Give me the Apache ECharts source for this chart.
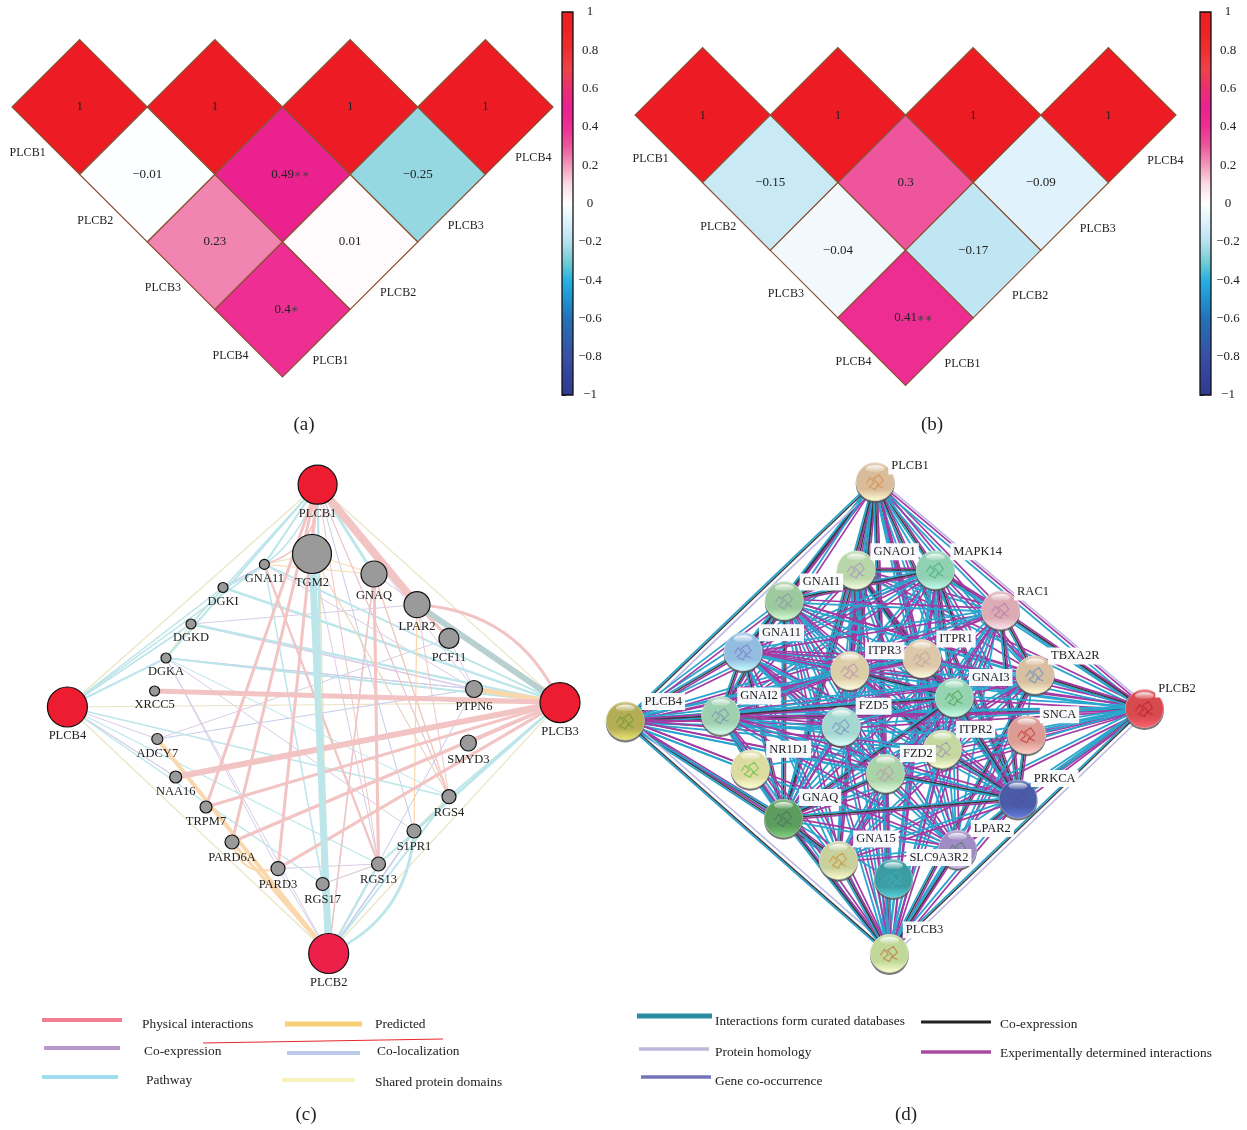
<!DOCTYPE html>
<html>
<head>
<meta charset="utf-8">
<title>PLCB correlation and networks</title>
<script src="https://cdn.jsdelivr.net/npm/echarts@6/dist/echarts.min.js"></script>
<style>
  html, body { margin: 0; background: #fff; }
  #main { width: 1247px; height: 1130px; }
</style>
</head>
<body>
<div id="main"></div>
<script>
const SERIF = '"Liberation Serif", serif'

// (a) and (b): rows run from the top row of the triangle downwards
const genes = ['PLCB1', 'PLCB2', 'PLCB3', 'PLCB4']
const corrA = [[1, 1, 1, 1], [-0.01, 0.49, -0.25], [0.23, 0.01], [0.4]]
const starsA = [['', '', '', ''], ['', '**', ''], ['', ''], ['*']]
const corrB = [[1, 1, 1, 1], [-0.15, 0.3, -0.09], [-0.04, -0.17], [0.41]]
const starsB = [['', '', '', ''], ['', '', ''], ['', ''], ['**']]
const barColors = ['#2e3a8f', '#33439a', '#3a4ea3', '#2f60ae', '#2272b8', '#2091cd', '#27b1e3',
  '#75cdd4', '#b5e2f0', '#dcf1fa', '#ffffff', '#fbdbe6', '#f398ba', '#ee559d', '#ee2e92',
  '#ec2090', '#ea3070', '#ee4248', '#ee2e30', '#ee2226', '#ed1c24']

// (c): GeneMANIA nodes
const cNames = ['PLCB1', 'TGM2', 'GNA11', 'DGKI', 'DGKD', 'DGKA', 'XRCC5', 'PLCB4', 'ADCY7', 'NAA16', 'TRPM7', 'PARD6A',
  'PARD3', 'RGS17', 'RGS13', 'S1PR1', 'RGS4', 'SMYD3', 'PTPN6', 'PLCB3', 'PCF11', 'LPAR2', 'GNAQ', 'PLCB2']
const cX = [317.6, 312, 264.4, 223, 191, 166, 154.6, 67.4, 157.3, 175.7, 206, 232, 278, 322.6, 378.5, 414, 449, 468.4, 474, 560, 449, 417, 374, 328.7]
const cY = [484.7, 554, 564.4, 587.5, 624, 658, 691, 707, 739, 777, 807, 842, 868.6, 884, 864, 831, 796.7, 743, 689, 702.6, 638.4, 604.7, 574, 953.5]
const cSizes = [39, 39, 10, 10, 10, 10, 10, 40, 11, 12, 12, 14, 14, 13, 14, 14, 14, 16, 17, 40, 20, 26, 26, 40]

// (c) links: [source, target, width, curveness]
const linksShared = [['PLCB1', 'PLCB4', 1.2], ['PLCB1', 'PLCB3', 1.2], ['PLCB4', 'PLCB2', 1.2], ['PLCB3', 'PLCB2', 1.2],
  ['PLCB4', 'PLCB3', 1.2], ['PLCB1', 'PLCB2', 1.5], ['DGKA', 'DGKD', 1.5], ['DGKD', 'DGKI', 1.5], ['RGS17', 'RGS13', 1.2],
  ['RGS4', 'S1PR1', 1.5], ['GNA11', 'TGM2', 1.2]]
const linksCoexp = [['PLCB4', 'DGKI', 1], ['PLCB4', 'GNA11', 1], ['PLCB4', 'NAA16', 1.2], ['PLCB4', 'ADCY7', 1], ['DGKD', 'PTPN6', 1.5],
  ['DGKD', 'LPAR2', 1], ['DGKD', 'PLCB3', 1], ['DGKA', 'PTPN6', 1], ['DGKA', 'PLCB3', 1], ['ADCY7', 'PCF11', 1], ['PLCB1', 'RGS4', 1],
  ['PLCB1', 'RGS17', 1], ['PLCB1', 'PTPN6', 1], ['TGM2', 'RGS13', 1], ['DGKA', 'PARD3', 1], ['PLCB2', 'DGKA', 1], ['PARD3', 'RGS13', 1],
  ['RGS17', 'RGS13', 1], ['GNA11', 'PTPN6', 1], ['DGKA', 'S1PR1', 1], ['DGKI', 'GNA11', 1.2], ['PLCB2', 'PARD3', 1], ['PLCB3', 'GNAQ', 1],
  ['PCF11', 'PTPN6', 1]]
const linksColoc = [['ADCY7', 'PTPN6', 1], ['DGKA', 'PTPN6', 1], ['PLCB2', 'PTPN6', 1], ['PLCB2', 'RGS13', 2], ['GNA11', 'DGKI', 1],
  ['TGM2', 'RGS4', 1], ['DGKA', 'PLCB3', 1], ['PLCB1', 'S1PR1', 1], ['PLCB2', 'S1PR1', 1.5]]
const linksPathway = [['PLCB1', 'RGS17', 2], ['PLCB1', 'GNAQ', 3], ['PLCB1', 'LPAR2', 2], ['PLCB1', 'DGKI', 1.5, 0.25], ['PLCB1', 'DGKD', 1.5],
  ['PLCB1', 'DGKA', 2], ['PLCB1', 'GNA11', 2], ['PLCB4', 'DGKI', 1.5], ['PLCB4', 'DGKD', 2], ['PLCB4', 'DGKA', 2], ['PLCB4', 'GNA11', 1.5],
  ['PLCB4', 'RGS4', 1.5], ['PLCB4', 'RGS17', 1.5], ['PLCB4', 'RGS13', 1.2], ['PLCB3', 'DGKD', 2.5], ['PLCB3', 'DGKA', 2], ['PLCB3', 'GNA11', 2],
  ['PLCB3', 'DGKI', 2.5], ['PLCB3', 'RGS4', 2], ['PLCB3', 'S1PR1', 2], ['PLCB3', 'RGS13', 2], ['PLCB3', 'XRCC5', 1.5], ['PLCB2', 'RGS4', 2],
  ['PLCB2', 'S1PR1', 3, -0.3], ['PLCB2', 'RGS13', 2], ['PLCB2', 'RGS17', 2], ['GNA11', 'RGS17', 1.5], ['GNA11', 'RGS13', 1.2], ['GNAQ', 'PLCB2', 1.2],
  ['DGKA', 'RGS4', 1], ['PLCB1', 'TGM2', 2], ['PLCB3', 'PTPN6', 2]]
const linksPredicted = [['PLCB3', 'PTPN6', 5], ['ADCY7', 'PLCB2', 4], ['PARD6A', 'PLCB2', 3], ['GNAQ', 'RGS13', 2.5], ['TGM2', 'GNAQ', 1],
  ['TGM2', 'RGS4', 1], ['PARD6A', 'PARD3', 2, -0.5], ['LPAR2', 'S1PR1', 1.2], ['GNAQ', 'RGS4', 1.2], ['GNA11', 'GNAQ', 1]]
const linksPhysical = [['PLCB1', 'LPAR2', 8], ['LPAR2', 'PCF11', 3], ['PLCB3', 'LPAR2', 3, -0.3], ['XRCC5', 'PLCB3', 5], ['NAA16', 'PLCB3', 6],
  ['TRPM7', 'PLCB3', 3], ['PARD6A', 'PLCB3', 3.5], ['PARD3', 'PLCB3', 3], ['SMYD3', 'PLCB3', 3], ['PLCB1', 'TRPM7', 3], ['PLCB1', 'PARD6A', 3],
  ['PLCB1', 'PARD3', 3], ['PLCB1', 'GNA11', 1.5, 0.4], ['GNA11', 'RGS13', 2.2], ['GNAQ', 'RGS13', 3], ['TGM2', 'PLCB1', 2], ['GNAQ', 'RGS4', 1],
  ['LPAR2', 'RGS4', 1], ['PLCB2', 'TGM2', 1], ['PLCB2', 'GNAQ', 1.5], ['PLCB1', 'RGS4', 1], ['PLCB1', 'RGS13', 1]]
// drawn last: the thick pathway trunk, and the trunk where pathway and physical overlap
const linksTrunkPathway = [['TGM2', 'PLCB2', 7]]
const linksTrunkMixed = [['PLCB3', 'LPAR2', 6]]

// (d): STRING nodes. Link lists use one letter per node, in node order:
// the first letter of a string is linked to each letter after it
const dNames = ['PLCB1', 'GNAO1', 'MAPK14', 'GNAI1', 'RAC1', 'GNA11', 'ITPR1', 'ITPR3', 'TBXA2R', 'PLCB2', 'GNAI3', 'PLCB4',
  'GNAI2', 'FZD5', 'SNCA', 'ITPR2', 'NR1D1', 'FZD2', 'PRKCA', 'GNAQ', 'LPAR2', 'GNA15', 'SLC9A3R2', 'PLCB3']
const dX = [875.2, 856.2, 935.3, 784.3, 1000.6, 743.1, 921.9, 849.9, 1035, 1144.5, 954.3, 625.3,
  720.6, 841.2, 1026.7, 942.4, 750.3, 885.5, 1018, 783.5, 957.5, 838.4, 893.4, 889.4]
const dY = [481.7, 570, 570, 600.7, 610.3, 651.7, 658.6, 670.7, 674.8, 708.6, 697.6, 721,
  715.5, 726.6, 734.8, 749.3, 769.3, 773.4, 799, 818.3, 849.3, 860.3, 878.6, 953.4]
const dLabelX = [910, 894.6, 977.6, 821.4, 1033, 781.5, 956, 884.7, 1075.3, 1177, 990.7, 663.3,
  759, 873.6, 1059.5, 975.6, 788.6, 917.9, 1054.7, 820.2, 992.3, 876, 938.9, 924.6]
const dLabelY = [466, 551.7, 551.7, 582, 592, 632.8, 639, 650.7, 655.9, 689, 677.6, 701.4,
  695.9, 706.2, 714.8, 729.3, 749.3, 753.4, 778.6, 797.6, 828.6, 839, 857.6, 930]
const dColors = ['#d9bd9b', '#b8d6a8', '#8fd1b2', '#9dca9d', '#dcabb3', '#93bde0', '#dcc8a8', '#dccfa8', '#d8bf9f', '#d64a50', '#94d4b0', '#b3ad55',
  '#9fd0b0', '#a5d8d0', '#dc9c94', '#c5d8a0', '#dcdca0', '#aad4a8', '#4a5ca8', '#5c9c5c', '#a08cc4', '#c8d09c', '#3c9ca4', '#c0d898']
const dGlyphs = ['#d88a3c', '#a98fc0', '#3fb07f', '#8a93b0', '#b678a8', '#7a7cc0', '#c0a0a0', '#b88ab0', '#5a8fd0', '#c02028', '#4aa050', '#6a9a30',
  '#7a90b0', '#7a8cc0', '#c83030', '#a090b0', '#60c040', '#c090a8', '#5050a0', '#507060', '#508060', '#d09030', '#40b0b8', '#c07040']
const curatedLinks = ['ABCDEFGHIJKLMNOPRSTUVWX', 'BCDEFGHJKLMNPRSTUVX', 'CDEFGHIJKLMNOPRSTUX', 'DEFGHIJKLMNPRSTUVX', 'EFIJKLMOPRSTUVX',
  'FGHJKLMNPRSTUVX', 'GHIJKLPSTX', 'HIJKLMPSTX', 'IJKLMRSTUVX', 'JKLMNOPQRSTUVWX', 'KLMNPRSTUVX', 'LMNOPQRSTUVWX', 'MNPRSTUVX', 'NRTUX',
  'OSX', 'PSTX', 'QTX', 'RSTUVX', 'STUVX', 'TUVX', 'UVX', 'VX', 'WX']
const experimentLinks = ['ABCDEFGHIJKMNPRSTUVX', 'BCDEGHIJKMNRSTUVX', 'CDEFGHIJKLMOPSTX', 'DEFHIJKLMNPRSTUVX', 'EFHIJKLMPRSTVX',
  'FGHIJKLMNRSTUX', 'GHJKLPSX', 'HJKLMPSTX', 'IJKLMRTUVX', 'JKLMNOPRSTUV', 'KLMNPRSTUVX', 'LMNPQRSTUV', 'MNRSTUVX', 'NRTX',
  'OSX', 'PSX', 'QT', 'RTUVX', 'STUVX', 'TUVX', 'UVX', 'VX']
const coexpLinks = ['ABCDFGHLSTVX', 'BCDHKST', 'CDESK', 'DFMT', 'ESIJ', 'FMTL', 'GHPKS', 'HPK', 'IJX', 'JLSX', 'KMST', 'LMTVX', 'MTQ', 'RT', 'OS', 'PS', 'QT', 'RS', 'STU', 'TVX', 'UX', 'VX']
const homologyLinks = ['ALJ', 'JX', 'LX', 'QT', 'GHP']

// legends and captions
const legendCNames = ['Physical interactions', 'Predicted', 'Co-expression', 'Co-localization', 'Pathway', 'Shared protein domains']
const legendCColors = ['#f07f92', '#f8cf73', '#b899cb', '#bccbea', '#9fdcf0', '#faf2bd']
const legendDNames = ['Interactions form curated databases', 'Co-expression', 'Protein homology', 'Experimentally determined interactions', 'Gene co-occurrence']
const legendDColors = ['#2a8ba3', '#222222', '#bdb8dc', '#a94a9f', '#7472b8']
const captions = ['(a)', '(b)', '(c)', '(d)']

// layout only
const legendCLayout = [[42, 122, 1020, 142, 1024, 4], [285, 362, 1024, 375, 1024, 5], [44, 120, 1048, 144, 1051, 4],
  [287, 360, 1053, 377, 1051, 4], [42, 118, 1077, 146, 1080, 4], [282, 355, 1080, 375, 1082, 4]]
const legendDLayout = [[637, 712, 1016, 715, 1021, 5], [921, 991, 1022, 1000, 1024, 3], [639, 709, 1049, 715, 1052, 3.5],
  [921, 991, 1052, 1000, 1053, 3.5], [641, 711, 1077, 715, 1081, 3.5]]
const captionLayout = [[304, 425], [932, 425], [306, 1115], [906, 1115]]

const measureCtx = document.createElement('canvas').getContext('2d')

function matrixData(corr, stars) {
  const out = []
  corr.forEach((row, k) => row.forEach((v, c) => {
    out.push({
      value: [c + k / 2, k, v],
      star: stars[k][c],
      left: c === 0 ? genes[k] : '',
      right: c === row.length - 1 ? genes[3 - k] : ''
    })
  }))
  return out
}

function formatCell(v) {
  return String(v).replace('-', '−')
}

function matrixSeries(idx, corr, stars, offL, offR) {
  const data = matrixData(corr, stars)
  return {
    type: 'custom',
    xAxisIndex: idx,
    yAxisIndex: idx,
    clip: false,
    encode: { x: 0, y: 1 },
    dimensions: ['u', 'v', 'r'],
    data: data,
    renderItem: function (params, api) {
      const u = api.value(0), v = api.value(1)
      const d = data[params.dataIndex]
      const c = api.coord([u, v])
      const pts = [[u - 0.5, v], [u, v - 1], [u + 0.5, v], [u, v + 1]].map(p => api.coord(p))
      const font = '12px ' + SERIF
      const valueFont = '13px ' + SERIF
      const txt = formatCell(api.value(2))
      measureCtx.font = valueFont
      const halfW = measureCtx.measureText(txt).width / 2
      const kids = [{
        type: 'polygon',
        shape: { points: pts },
        style: { fill: api.visual('color'), stroke: '#8a5234', lineWidth: 1.2 }
      }, {
        type: 'text',
        style: { text: txt, x: c[0], y: c[1], align: 'center', verticalAlign: 'middle', fill: '#222', font: valueFont }
      }]
      if (d.star) kids.push({ type: 'text', style: { text: d.star.replace(/\*/g, '∗'), x: c[0] + halfW + 0.5, y: c[1] + 0.5, align: 'left', verticalAlign: 'middle', fill: '#444', font: '9px ' + SERIF } })
      if (d.left) kids.push({ type: 'text', style: { text: d.left, x: c[0] + offL[0], y: c[1] + offL[1], align: 'center', verticalAlign: 'middle', fill: '#222', font: font } })
      if (d.right) kids.push({ type: 'text', style: { text: d.right, x: c[0] + offR[0], y: c[1] + offR[1], align: 'center', verticalAlign: 'middle', fill: '#222', font: font } })
      return { type: 'group', children: kids }
    }
  }
}

function colorbarSeries(idx) {
  const stops = barColors.slice().reverse().map((c, i) => ({ offset: i / (barColors.length - 1), color: c }))
  return {
    type: 'custom',
    xAxisIndex: idx,
    yAxisIndex: idx,
    clip: false,
    data: [[0, 1, -1]],
    renderItem: function (params, api) {
      const a = api.coord([api.value(0), api.value(1)])
      const b = api.coord([api.value(0) + 1, api.value(2)])
      return {
        type: 'rect',
        shape: { x: a[0], y: a[1], width: b[0] - a[0], height: b[1] - a[1] },
        style: { fill: new echarts.graphic.LinearGradient(0, 0, 0, 1, stops), stroke: '#111', lineWidth: 1.3 }
      }
    }
  }
}

function links(list, color) {
  return list.map(l => ({
    source: l[0],
    target: l[1],
    lineStyle: { color: color, width: l[2], curveness: l[3] || 0, opacity: 1 }
  }))
}

function expandLinks(list, type) {
  const out = []
  list.forEach(s => {
    for (let i = 1; i < s.length; i++) {
      out.push([s.charCodeAt(0) - 65, s.charCodeAt(i) - 65, type])
    }
  })
  return out
}

// colour and perpendicular offset (px) of each STRING channel
const dEdgeColors = ['#2aa5cf', '#a43aa3', '#3a3a3a', '#bdb8e4']
const dEdgeOffsets = [1.7, -1.7, 0, -4]
const dEdgeWidths = [1.8, 1.7, 1.4, 1.6]

// interleave the channels so no colour sits wholly on top of another
const dEdges = [].concat(
  expandLinks(curatedLinks, 0),
  expandLinks(homologyLinks, 3),
  expandLinks(experimentLinks, 1),
  expandLinks(coexpLinks, 2)
).sort((a, b) => (a[0] - b[0]) || (a[1] - b[1]) || (a[2] - b[2]))

const glyphPoints = [[-9, 2], [-5, -4], [-1, 1], [-6, 5], [0, 8], [3, 2], [-2, -3], [4, -7], [8, -1], [3, 4], [8, 6]]

const option = {
  animation: false,
  backgroundColor: '#fff',
  textStyle: { fontFamily: SERIF },
  grid: [
    { left: 12, top: 39.5, width: 541, height: 337.5 },
    { left: 635, top: 47.5, width: 541, height: 338 },
    { left: 562, top: 12, width: 11, height: 383 },
    { left: 1200, top: 12, width: 11, height: 383 },
    { left: 0, top: 450, width: 620, height: 550 },
    { left: 600, top: 450, width: 647, height: 550 }
  ],
  xAxis: [
    { gridIndex: 0, type: 'value', min: -0.5, max: 3.5, show: false },
    { gridIndex: 1, type: 'value', min: -0.5, max: 3.5, show: false },
    { gridIndex: 2, type: 'value', min: 0, max: 1, show: false },
    { gridIndex: 3, type: 'value', min: 0, max: 1, show: false },
    { gridIndex: 4, type: 'value', min: 0, max: 620, show: false },
    { gridIndex: 5, type: 'value', min: 600, max: 1247, show: false }
  ],
  yAxis: [
    { gridIndex: 0, type: 'value', min: -1, max: 4, inverse: true, show: false },
    { gridIndex: 1, type: 'value', min: -1, max: 4, inverse: true, show: false }
  ].concat([2, 3].map(gi => ({
    gridIndex: gi,
    type: 'value',
    min: -1,
    max: 1,
    interval: 0.2,
    position: 'right',
    splitLine: { show: false },
    axisLine: { show: false },
    axisTick: { show: true, length: 4, lineStyle: { color: '#222' } },
    axisLabel: {
      margin: 17,
      align: 'center',
      color: '#222',
      fontSize: 13,
      fontFamily: SERIF,
      formatter: v => formatCell(Math.round(v * 10) / 10)
    }
  }))).concat([
    { gridIndex: 4, type: 'value', min: 450, max: 1000, inverse: true, show: false },
    { gridIndex: 5, type: 'value', min: 450, max: 1000, inverse: true, show: false }
  ]),
  visualMap: [{
    show: false,
    type: 'continuous',
    seriesIndex: [0, 1],
    dimension: 2,
    min: -1,
    max: 1,
    inRange: { color: barColors }
  }],
  graphic: { elements: [] },
  series: [
    matrixSeries(0, corrA, starsA, [-52, 46], [48, 51]),
    matrixSeries(1, corrB, starsB, [-52, 44], [57, 46]),
    colorbarSeries(2),
    colorbarSeries(3),
    {
      type: 'graph',
      coordinateSystem: 'cartesian2d',
      xAxisIndex: 4,
      yAxisIndex: 4,
      silent: true,
      data: cNames.map((n, i) => ({
        name: n,
        value: [cX[i], cY[i]],
        symbolSize: cSizes[i],
        itemStyle: {
          color: n === 'PLCB2' ? '#ec2049' : (n.indexOf('PLCB') === 0 ? '#ee1c30' : '#9a9a9a'),
          borderColor: '#111',
          borderWidth: 1.2
        }
      })),
      links: [].concat(
        links(linksShared, '#ebe5c4'),
        links(linksCoexp, '#d9cce6'),
        links(linksColoc, '#c4cdea'),
        links(linksPathway, '#bde6ea'),
        links(linksPredicted, '#fad8ac'),
        links(linksPhysical, '#f2c4c4'),
        links(linksTrunkPathway, '#bde6ea'),
        links(linksTrunkMixed, '#b8d0d0')
      ),
      label: { show: true, position: 'bottom', distance: 2, color: '#222', fontSize: 12.5, fontFamily: SERIF },
      z: 3
    },
    {
      type: 'custom',
      xAxisIndex: 5,
      yAxisIndex: 5,
      clip: false,
      silent: true,
      z: 3,
      data: dEdges,
      renderItem: function (params, api) {
        const s = api.value(0), t = api.value(1), k = api.value(2)
        const p = api.coord([dX[s], dY[s]]), q = api.coord([dX[t], dY[t]])
        const dx = q[0] - p[0], dy = q[1] - p[1], len = Math.hypot(dx, dy) || 1
        const ox = -dy / len * dEdgeOffsets[k], oy = dx / len * dEdgeOffsets[k]
        return {
          type: 'line',
          shape: { x1: p[0] + ox, y1: p[1] + oy, x2: q[0] + ox, y2: q[1] + oy },
          style: { stroke: dEdgeColors[k], lineWidth: dEdgeWidths[k] }
        }
      }
    },
    {
      type: 'custom',
      xAxisIndex: 5,
      yAxisIndex: 5,
      clip: false,
      silent: true,
      z: 4,
      data: dNames.map((n, i) => [dX[i], dY[i]]),
      renderItem: function (params, api) {
        const c = api.coord([api.value(0), api.value(1)])
        const base = dColors[params.dataIndex], r = 19
        return {
          type: 'group',
          x: c[0],
          y: c[1],
          children: [
            { type: 'circle', shape: { cx: 0, cy: 2, r: r + 0.5 }, style: { fill: '#555', opacity: 0.8 } },
            {
              type: 'circle',
              shape: { cx: 0, cy: 0, r: r },
              style: {
                stroke: echarts.color.lift(base, 0.45),
                lineWidth: 0.8,
                fill: new echarts.graphic.LinearGradient(0, 0, 0, 1, [
                  { offset: 0, color: echarts.color.lift(base, 0.4) },
                  { offset: 0.14, color: base },
                  { offset: 0.7, color: base },
                  { offset: 1, color: echarts.color.lift(base, -0.35) }
                ])
              }
            },
            {
              type: 'polyline',
              shape: { points: glyphPoints },
              style: { fill: 'none', stroke: dGlyphs[params.dataIndex], lineWidth: 1.1, opacity: 0.75 }
            },
            {
              type: 'ellipse',
              shape: { cx: 0, cy: -r * 0.68, rx: r * 0.5, ry: r * 0.18 },
              style: {
                fill: new echarts.graphic.LinearGradient(0, 0, 0, 1, [
                  { offset: 0, color: 'rgba(255,255,255,0.85)' },
                  { offset: 1, color: 'rgba(255,255,255,0.1)' }
                ])
              }
            }
          ]
        }
      }
    },
    {
      type: 'custom',
      xAxisIndex: 5,
      yAxisIndex: 5,
      clip: false,
      silent: true,
      z: 5,
      data: dNames.map((n, i) => [dLabelX[i], dLabelY[i]]),
      renderItem: function (params, api) {
        const c = api.coord([api.value(0), api.value(1)])
        return {
          type: 'text',
          style: {
            text: dNames[params.dataIndex],
            x: c[0],
            y: c[1],
            align: 'center',
            verticalAlign: 'middle',
            fill: '#222',
            font: '12.5px ' + SERIF,
            backgroundColor: 'rgba(255,255,255,0.95)',
            padding: [2, 3]
          }
        }
      }
    }
  ]
}

// legends
const g = option.graphic.elements
function addLegend(names, colors, layout) {
  names.forEach((n, i) => {
    const l = layout[i]
    g.push({ type: 'line', shape: { x1: l[0], y1: l[2], x2: l[1], y2: l[2] }, style: { stroke: colors[i], lineWidth: l[5] } })
    g.push({ type: 'text', x: l[3], y: l[4], style: { text: n, fill: '#222', font: '13.4px ' + SERIF, verticalAlign: 'middle' } })
  })
}
addLegend(legendCNames, legendCColors, legendCLayout)
addLegend(legendDNames, legendDColors, legendDLayout)
// the stray red stroke in panel (c)
g.push({ type: 'line', shape: { x1: 203, y1: 1043, x2: 443, y2: 1039 }, style: { stroke: '#e8282c', lineWidth: 1 } })
captions.forEach((t, i) => {
  g.push({ type: 'text', x: captionLayout[i][0], y: captionLayout[i][1], style: { text: t, fill: '#222', font: '19px ' + SERIF, align: 'center', verticalAlign: 'middle' } })
})

const chart = echarts.init(document.getElementById('main'))
chart.setOption(option)
</script>
</body>
</html>
